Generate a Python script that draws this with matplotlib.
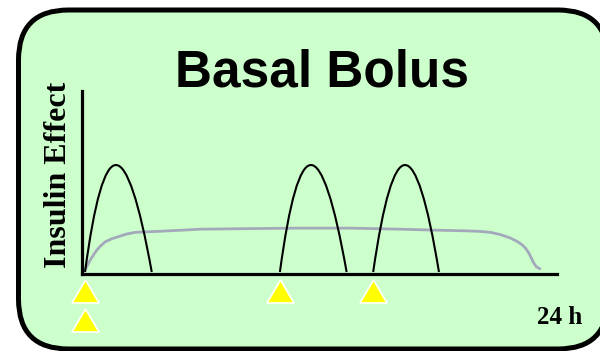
import matplotlib
matplotlib.use("Agg")
import matplotlib.pyplot as plt
from matplotlib.path import Path
from matplotlib.patches import PathPatch, FancyBboxPatch
from matplotlib.transforms import IdentityTransform

# bolus injections (hours): start, time of peak, end; peak effect
bolus_start = [0.0, 10.28, 15.2]
bolus_peak = [1.63, 11.92, 16.88]
bolus_end = [3.52, 13.8, 18.67]
bolus_height = [1.0, 1.0, 1.0]

# basal insulin effect
basal_t = [0.0, 0.15, 0.3, 0.45, 0.6, 0.8, 1.05, 1.4, 1.76, 2.2, 2.64, 3.2, 3.87, 5.0,
           6.07, 8.5, 11.34, 14.0, 16.6, 18.7, 20.0, 20.8, 21.4, 21.9, 22.4, 22.8,
           23.05, 23.25, 23.4, 23.52, 23.65, 23.8, 24.0]
basal_v = [0.02, 0.07, 0.12, 0.16, 0.20, 0.24, 0.28, 0.31, 0.33, 0.355, 0.37, 0.375,
           0.38, 0.39, 0.40, 0.405, 0.41, 0.41, 0.40, 0.39, 0.385, 0.38, 0.37, 0.35,
           0.32, 0.285, 0.255, 0.22, 0.18, 0.14, 0.09, 0.05, 0.03]

# injection markers
meal_times = [0.0, 10.28, 15.2]
basal_times = [0.0]

fig = plt.figure(figsize=(6, 3.51), dpi=100)
fig.patch.set_facecolor("white")

# rounded green panel (display pixels)
box = FancyBboxPatch((18.5, 2), 589.5, 339, boxstyle="round,pad=0,rounding_size=50",
                     transform=IdentityTransform(), facecolor="#ccffcc",
                     edgecolor="black", linewidth=3.6, zorder=-1)
fig.patches.append(box)

ax = fig.add_axes([0.1372, 0.2185, 0.7906, 0.5231])
ax.set_facecolor("none")
ax.set_xlim(-0.142, 24.88)
ax.set_ylim(-0.0215, 1.694)
for s in ["top", "right"]:
    ax.spines[s].set_visible(False)
for s in ["left", "bottom"]:
    ax.spines[s].set_linewidth(2.3)
ax.set_xticks([])
ax.set_yticks([])

ax.plot(basal_t, basal_v, color="#a3a9bb", lw=2.0, solid_capstyle="round",
        solid_joinstyle="round", zorder=2)

for a, p, b, h in zip(bolus_start, bolus_peak, bolus_end, bolus_height):
    c = (4 * p - a - b) / 2
    path = Path([(a, 0.0), (c, 2 * h), (b, 0.0)],
                [Path.MOVETO, Path.CURVE3, Path.CURVE3])
    ax.add_patch(PathPatch(path, facecolor="none", edgecolor="black", lw=1.5, zorder=3))

tri = [(0, 0.85), (-1, -0.85), (1, -0.85), (0, 0.85)]
ax.scatter(meal_times, [-0.182] * len(meal_times), marker=tri, s=19.5 ** 2,
           color="#ffff00", edgecolor="white", linewidth=1.2, clip_on=False, zorder=4)
ax.scatter(basal_times, [-0.453] * len(basal_times), marker=tri, s=19.5 ** 2,
           color="#ffff00", edgecolor="white", linewidth=1.2, clip_on=False, zorder=4)

fig.text(0.536, 0.753, "Basal Bolus", family="Liberation Sans", weight="bold",
         fontsize=37, ha="center", va="baseline")
fig.text(0.097, 0.501, "Insulin Effect", family="Liberation Serif", weight="bold",
         fontsize=23, rotation=90, ha="center", va="center")
fig.text(0.932, 0.076, "24 h", family="Liberation Serif", weight="bold",
         fontsize=18, ha="center", va="baseline")

fig.savefig("out.png", dpi=100)
